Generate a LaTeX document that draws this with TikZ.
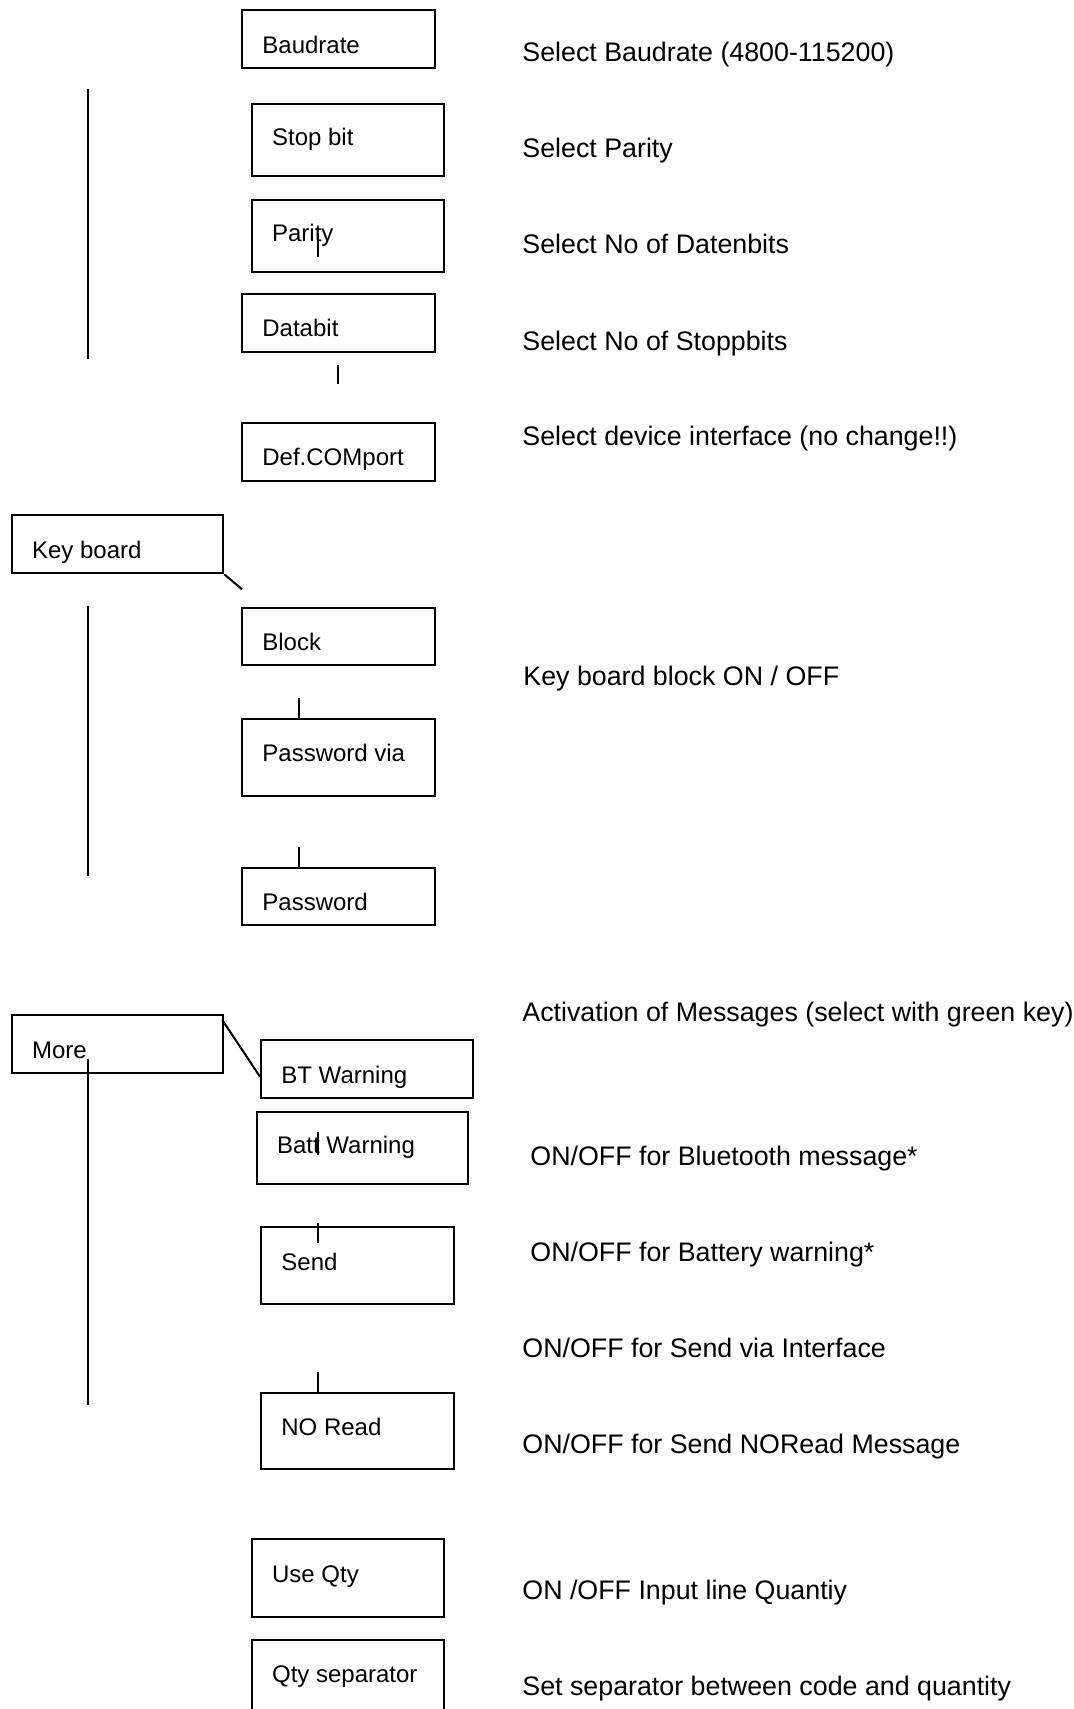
\documentclass[tikz,border=0pt]{standalone}
\usepackage{fontspec}
\setmainfont{Liberation Sans}
\begin{document}
\begin{tikzpicture}[x=0.5pt,y=-0.5pt,
  box/.style={draw, line width=1pt, inner sep=0pt, anchor=north west, minimum width=96.5pt, minimum height=29pt},
  txt/.style={anchor=base west, inner sep=0pt, font=\fontsize{12}{14}\selectfont},
  desc/.style={anchor=base west, inner sep=0pt, font=\fontsize{13.4}{15}\selectfont},
  ln/.style={line width=1pt}]
\useasboundingbox (0,0) rectangle (1074,1709);
\clip (0,0) rectangle (1074,1709);
% boxes
\node[box] (baud) at (241,9.3) {};
\node[box, minimum width=96.3pt, minimum height=36pt] (stop) at (250.7,103) {};
\node[box, minimum width=96.3pt, minimum height=36pt] (parity) at (250.7,199) {};
\node[box] (data) at (241,293) {};
\node[box] (defcom) at (241,422) {};
\node[box, minimum width=105.8pt, minimum height=29.15pt] (keyb) at (10.7,514) {};
\node[box, minimum height=28.8pt] (block) at (241,606.7) {};
\node[box, minimum height=38.35pt] (pwvia) at (241,718.3) {};
\node[box, minimum height=28.8pt] (pw) at (241,866.7) {};
\node[box, minimum width=105.8pt, minimum height=28.85pt] (more) at (10.7,1014) {};
\node[box, minimum width=106.15pt, minimum height=29pt] (bt) at (260,1039.3) {};
\node[box, minimum width=105.8pt, minimum height=36.15pt] (batt) at (255.7,1111) {};
\node[box, minimum width=96.65pt, minimum height=38.35pt] (send) at (260,1226) {};
\node[box, minimum width=96.65pt, minimum height=38.3pt] (noread) at (260,1391.7) {};
\node[box, minimum width=96.3pt, minimum height=38.7pt] (useqty) at (250.7,1538.3) {};
\node[box, minimum width=96.3pt, minimum height=38.7pt] (qtysep) at (250.7,1639.3) {};
% box labels
\node[txt] (baudT) at (262,53) {Baudrate};
\node[txt] (stopT) at (271.7,145) {Stop bit};
\node[txt] (parityT) at (271.7,241.7) {Parity};
\node[txt] (dataT) at (262,336.7) {Databit};
\node[txt] (defcomT) at (262,465) {Def.COMport};
\node[txt] (keybT) at (31.7,558) {Key board};
\node[txt] (blockT) at (262,650) {Block};
\node[txt] (pwviaT) at (262,761.7) {Password via};
\node[txt] (pwT) at (262,910) {Password};
\node[txt] (moreT) at (31.7,1058.3) {More};
\node[txt] (btT) at (281,1083.3) {BT Warning};
\node[txt] (battT) at (276.7,1153.3) {Batt Warning};
\node[txt] (sendT) at (281,1270) {Send};
\node[txt] (noreadT) at (281,1435) {NO Read};
\node[txt] (useqtyT) at (271.7,1582.3) {Use Qty};
\node[txt] (qtysepT) at (271.7,1682.3) {Qty separator};
% descriptions
\node[desc] (d1) at (522,61.7) {Select Baudrate (4800-115200)};
\node[desc] (d2) at (522,157.3) {Select Parity};
\node[desc] (d3) at (522,253.3) {Select No of Datenbits};
\node[desc] (d4) at (522,350) {Select No of Stoppbits};
\node[desc] (d5) at (522,445.7) {Select device interface (no change!!)};
\node[desc] (d6) at (523,685) {Key board block ON / OFF};
\node[desc] (d7) at (522,1021.7) {Activation of Messages (select with green key)};
\node[desc] (d8) at (530,1165.7) {ON/OFF for Bluetooth message*};
\node[desc] (d9) at (530,1261.7) {ON/OFF for Battery warning*};
\node[desc] (d10) at (522,1357.7) {ON/OFF for Send via Interface};
\node[desc] (d11) at (522,1453.3) {ON/OFF for Send NORead Message};
\node[desc] (d12) at (522,1599.5) {ON /OFF Input line Quantiy};
\node[desc] (d13) at (522,1695.5) {Set separator between code and quantity};
% connector end points
\coordinate (v1a) at (88,89);   \coordinate (v1b) at (88,359);
\coordinate (tpa) at (318,233); \coordinate (tpb) at (318,257);
\coordinate (tda) at (337.7,365); \coordinate (tdb) at (337.7,384);
\coordinate (kd) at (242,589.3);
\coordinate (v2a) at (88,606);  \coordinate (v2b) at (88,876);
\coordinate (tba) at (299,698.3);
\coordinate (tpwa) at (299,846.7);
\coordinate (ms) at (222.3,1020);
\coordinate (v3a) at (88,1058.7); \coordinate (v3b) at (88,1405);
\coordinate (tbta) at (318.3,1131.7); \coordinate (tbtb) at (318.3,1155);
\coordinate (tsa) at (318.3,1223.3); \coordinate (tsb) at (318.3,1243.3);
\coordinate (tna) at (318.3,1371.7);
% connectors
\draw[ln] (v1a) -- (v1b);
\draw[ln] (tpa) -- (tpb);
\draw[ln] (tda) -- (tdb);
\draw[ln] (keyb.south east) -- (kd);
\draw[ln] (v2a) -- (v2b);
\draw[ln] (tba) -- (tba |- pwvia.north);
\draw[ln] (tpwa) -- (tpwa |- pw.north);
\draw[ln] (ms) -- (bt.west |- 0,1076.7);
\draw[ln] (v3a) -- (v3b);
\draw[ln] (tbta) -- (tbtb);
\draw[ln] (tsa) -- (tsb);
\draw[ln] (tna) -- (tna |- noread.north);
\end{tikzpicture}
\end{document}
